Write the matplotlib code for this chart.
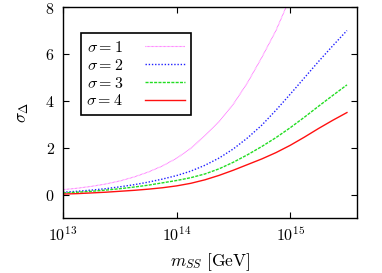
# Recreate sigma_Delta vs m_SS plot (gnuplot-style look).
import numpy as np
import matplotlib.pyplot as plt

# Data (log10 of m_SS in GeV).
log_m = [13.0, 13.125, 13.25, 13.375, 13.5, 13.625, 13.75, 13.875, 14.0, 14.125, 14.25,
         14.375, 14.5, 14.625, 14.75, 14.875, 15.0, 15.125, 15.25, 15.375, 15.5]
sigma1 = [0.21, 0.27, 0.35, 0.45, 0.58, 0.75, 0.96, 1.22, 1.55, 1.97, 2.52,
          3.12, 3.86, 4.78, 5.85, 7.00, 8.40, 10.0, 11.8, 13.8, 16.0]
sigma2 = [0.10, 0.14, 0.19, 0.25, 0.33, 0.42, 0.53, 0.66, 0.81, 1.00, 1.25,
          1.56, 1.95, 2.42, 2.96, 3.60, 4.28, 4.98, 5.68, 6.35, 7.00]
sigma3 = [0.07, 0.10, 0.14, 0.19, 0.25, 0.32, 0.40, 0.50, 0.60, 0.72, 0.88,
          1.10, 1.38, 1.70, 2.05, 2.43, 2.85, 3.30, 3.77, 4.23, 4.68]
sigma4 = [0.02, 0.04, 0.07, 0.10, 0.14, 0.18, 0.23, 0.29, 0.37, 0.48, 0.63,
          0.82, 1.04, 1.28, 1.52, 1.79, 2.10, 2.45, 2.82, 3.17, 3.50]
labels = [r'$\sigma = 1$', r'$\sigma = 2$', r'$\sigma = 3$', r'$\sigma = 4$']

plt.rcParams['mathtext.fontset'] = 'cm'
plt.rcParams['font.family'] = 'serif'

m = 10 ** np.array(log_m)

fig = plt.figure(figsize=(3.82, 2.73), dpi=100)
ax = fig.add_axes([0.165, 0.2015, 0.77, 0.7725])

ax.plot(m, sigma1, color='#ff55ff', lw=0.8, linestyle=(0, (0.6, 0.6)), label=labels[0])
ax.plot(m, sigma2, color='#2020ff', lw=1.0, linestyle=(0, (1.0, 1.3)), label=labels[1])
ax.plot(m, sigma3, color='#22dd22', lw=1.0, linestyle=(0, (2.2, 0.9)), label=labels[2])
ax.plot(m, sigma4, color='#ff1010', lw=1.0, linestyle='-', label=labels[3])

ax.set_xscale('log')
ax.set_xlim(1e13, 10 ** 15.59)
ax.set_ylim(-1, 8)
ax.set_xticks([1e13, 1e14, 1e15])
ax.set_xticklabels([r'$10^{13}$', r'$10^{14}$', r'$10^{15}$'])
ax.minorticks_off()
ax.set_yticks([0, 2, 4, 6, 8])
ax.set_yticklabels([r'$%d$' % v for v in [0, 2, 4, 6, 8]])

ax.tick_params(direction='in', top=True, right=True, length=4, width=0.8,
               labelsize=11.5, pad=6)
for s in ax.spines.values():
    s.set_linewidth(1.0)

ax.set_xlabel(r'$m_{SS}\ \mathrm{[GeV]}$', fontsize=12.5, labelpad=5)
ax.set_ylabel(r'$\sigma_\Delta$', fontsize=12.5, labelpad=10)

leg = ax.legend(loc='upper left', bbox_to_anchor=(0.06, 0.875), fontsize=11.5,
                fancybox=False, framealpha=1, edgecolor='black', markerfirst=False,
                handlelength=2.5, handletextpad=1.4, labelspacing=0.05,
                borderpad=0.35, borderaxespad=0.0)
leg.get_frame().set_linewidth(1.2)

fig.savefig('out.png', dpi=100)
